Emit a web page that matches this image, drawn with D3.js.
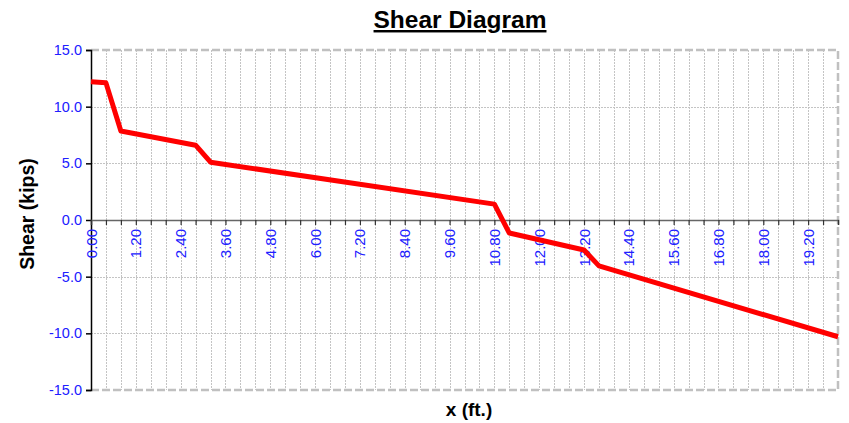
<!DOCTYPE html>
<meta charset="utf-8">
<style>
body { margin: 0; background: #fff; }
text { font-family: "Liberation Sans", Arial, sans-serif; }
.grid line { stroke: #c4c4c4; stroke-dasharray: 1.5 1.5; shape-rendering: crispEdges; }
</style>
<script src="https://cdn.jsdelivr.net/npm/d3@7"></script>
<body>
<script>
// breakpoints of the shear line (ft, kips)
const xs = [0, 0.4, 0.8, 2.8, 3.2, 10.8, 11.2, 13.2, 13.6, 20];
const shear = [12.2, 12.1, 7.85, 6.6, 5.1, 1.4, -1.15, -2.65, -4.05, -10.3];
const xTickLabels = ['0.00','1.20','2.40','3.60','4.80','6.00','7.20','8.40','9.60','10.80',
  '12.00','13.20','14.40','15.60','16.80','18.00','19.20'];
const yTicks = [-15, -10, -5, 0, 5, 10, 15];

const data = xs.map((x, i) => ({x: x, v: shear[i]}));

const margin = { top: 50, right: 11, bottom: 33, left: 91 };
const width = 849 - margin.left - margin.right;
const height = 423 - margin.top - margin.bottom;

const svg = d3.select('body')
  .append('svg')
    .attr('width', 849)
    .attr('height', 423);

const g = svg.append('g')
    .attr('transform', `translate(${margin.left}, ${margin.top})`);

const xScale = d3.scaleLinear().domain([0, 20]).range([0, width]);
const yScale = d3.scaleLinear().domain([-15, 15]).range([height, 0]);

// minor x positions every 0.4 ft
const xGrid = d3.range(0, 51).map(i => +(i * 0.4).toFixed(1));

// vertical grid
g.append('g').attr('class', 'grid')
  .selectAll('line')
  .data(xGrid.slice(1, -1))
  .enter().append('line')
    .attr('x1', d => Math.round(xScale(d)) + 0.5)
    .attr('x2', d => Math.round(xScale(d)) + 0.5)
    .attr('y1', 0)
    .attr('y2', height);

// horizontal grid
g.append('g').attr('class', 'grid')
  .selectAll('line')
  .data(yTicks.filter(d => d !== 0 && d !== -15 && d !== 15))
  .enter().append('line')
    .attr('x1', 0)
    .attr('x2', width)
    .attr('y1', d => Math.round(yScale(d)) + 0.5)
    .attr('y2', d => Math.round(yScale(d)) + 0.5);

// plot border (dashed grey)
g.append('path')
  .attr('d', `M0,0H${width}V${height}H0`)
  .attr('fill', 'none')
  .attr('stroke', '#c0c0c0')
  .attr('stroke-width', 2.5)
  .attr('stroke-dasharray', '8 3');

// y axis
const yAxis = g.append('g')
  .call(d3.axisLeft(yScale).tickValues(yTicks).tickSize(5).tickFormat(d => d.toFixed(1)));
yAxis.select('.domain').attr('stroke', '#000').attr('stroke-width', 1.5);
yAxis.selectAll('.tick line').attr('stroke', '#000').attr('stroke-width', 1.5);
yAxis.selectAll('text')
  .attr('fill', '#2020ff')
  .style('font-size', '14.5px')
  .attr('x', -9);

// x axis at zero
const xAxis = g.append('g')
  .attr('transform', `translate(0, ${yScale(0)})`)
  .call(d3.axisBottom(xScale).tickValues(xGrid).tickSize(5).tickFormat(''));
xAxis.select('.domain').attr('stroke', '#666').attr('stroke-width', 1.5);
xAxis.selectAll('.tick line').attr('stroke', '#333').attr('stroke-width', 1.2);

g.append('g')
  .attr('transform', `translate(0, ${yScale(0)})`)
  .selectAll('text')
  .data(xTickLabels)
  .enter().append('text')
    .attr('transform', d => `translate(${xScale(+d) + 5.5}, 9) rotate(-90)`)
    .attr('text-anchor', 'end')
    .attr('fill', '#2020ff')
    .style('font-size', '15px')
    .text(d => d);

// shear line
g.append('path')
  .datum(data)
  .attr('fill', 'none')
  .attr('stroke', '#ff0000')
  .attr('stroke-width', 5)
  .attr('stroke-linejoin', 'round')
  .attr('d', d3.line().x(d => xScale(d.x)).y(d => yScale(d.v)));

// titles
svg.append('text')
  .attr('x', 460)
  .attr('y', 28)
  .attr('text-anchor', 'middle')
  .style('font-size', '24.5px')
  .style('font-weight', 'bold')
  .style('text-decoration', 'underline')
  .text('Shear Diagram');

svg.append('text')
  .attr('transform', 'translate(34, 214) rotate(-90)')
  .attr('text-anchor', 'middle')
  .style('font-size', '19.5px')
  .style('font-weight', 'bold')
  .text('Shear (kips)');

svg.append('text')
  .attr('x', 469)
  .attr('y', 416)
  .attr('text-anchor', 'middle')
  .style('font-size', '19px')
  .style('font-weight', 'bold')
  .text('x (ft.)');
</script>
</body>
</html>
